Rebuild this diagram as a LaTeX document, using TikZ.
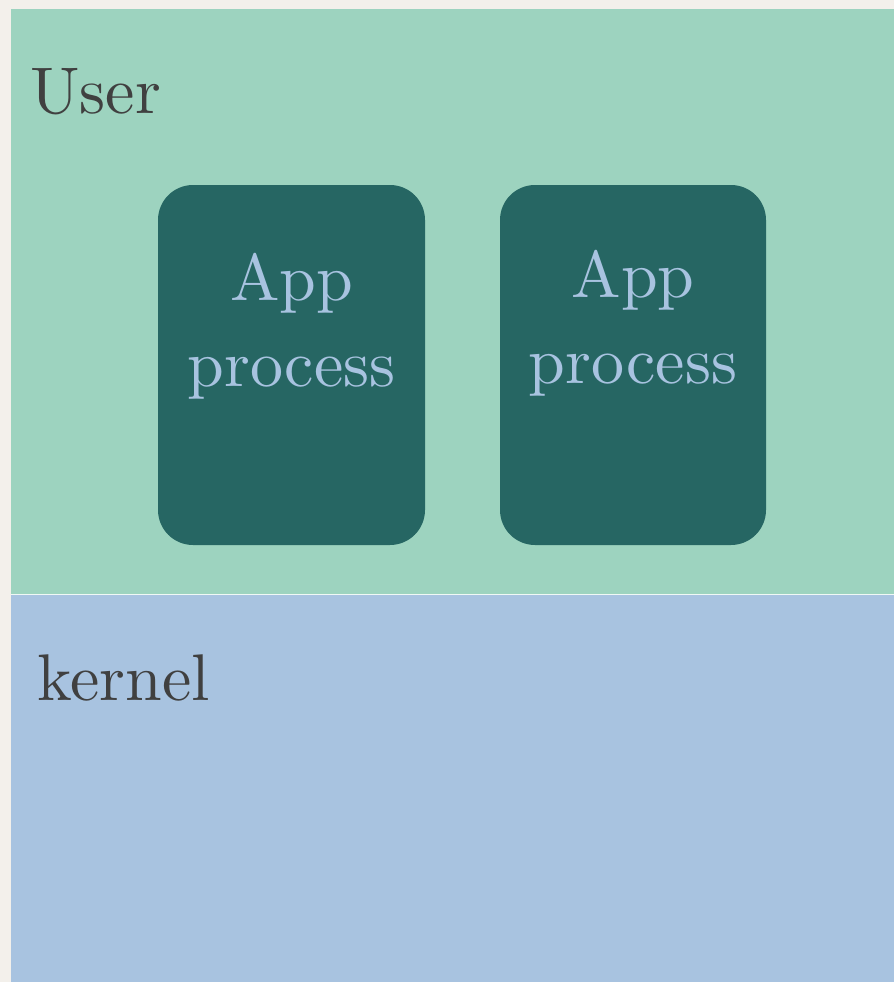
\documentclass[tikz,border=0pt]{standalone}
\usepackage{fontspec}
\newfontfamily\tenrm{lmroman10-regular}[Extension=.otf]
\begin{document}
\begin{tikzpicture}[x=1pt,y=-1pt]
\definecolor{bgpaper}{HTML}{F3F0EB}
\definecolor{usergreen}{HTML}{9DD3BF}
\definecolor{kernblue}{HTML}{A8C3E0}
\definecolor{appteal}{HTML}{266663}
\definecolor{labeldark}{HTML}{404040}
\definecolor{apptext}{HTML}{A8C3E0}
\tikzset{
  layerlabel/.style={inner sep=0pt, anchor=base west, text=labeldark, font=\tenrm\fontsize{66}{70}\selectfont},
  appbox/.style={fill=appteal, rounded corners=35pt},
  apptxt/.style={inner sep=0pt, anchor=base, text=apptext, font=\tenrm\fontsize{66}{70}\selectfont}
}
\useasboundingbox (0,0) rectangle (894,982);
\fill[bgpaper] (0,0) rectangle (894,982);
\fill[usergreen] (11,9) rectangle (894,594);
\fill[kernblue] (11,595) rectangle (894,982);
\draw[white!85!usergreen, line width=1pt] (11,594.5) -- (894,594.5);
\node[layerlabel] (user) at (30,113) {User};
\node[layerlabel] (kernel) at (37,700) {kernel};
\fill[appbox] (158,185) rectangle (425,545);
\fill[appbox] (500,185) rectangle (766,545);
\node[apptxt] (app1a) at (291.5,300) {App};
\node[apptxt] (app1b) at (291.5,386) {process};
\node[apptxt] (app2a) at (633,297) {App};
\node[apptxt] (app2b) at (633,383) {process};
\end{tikzpicture}
\end{document}
